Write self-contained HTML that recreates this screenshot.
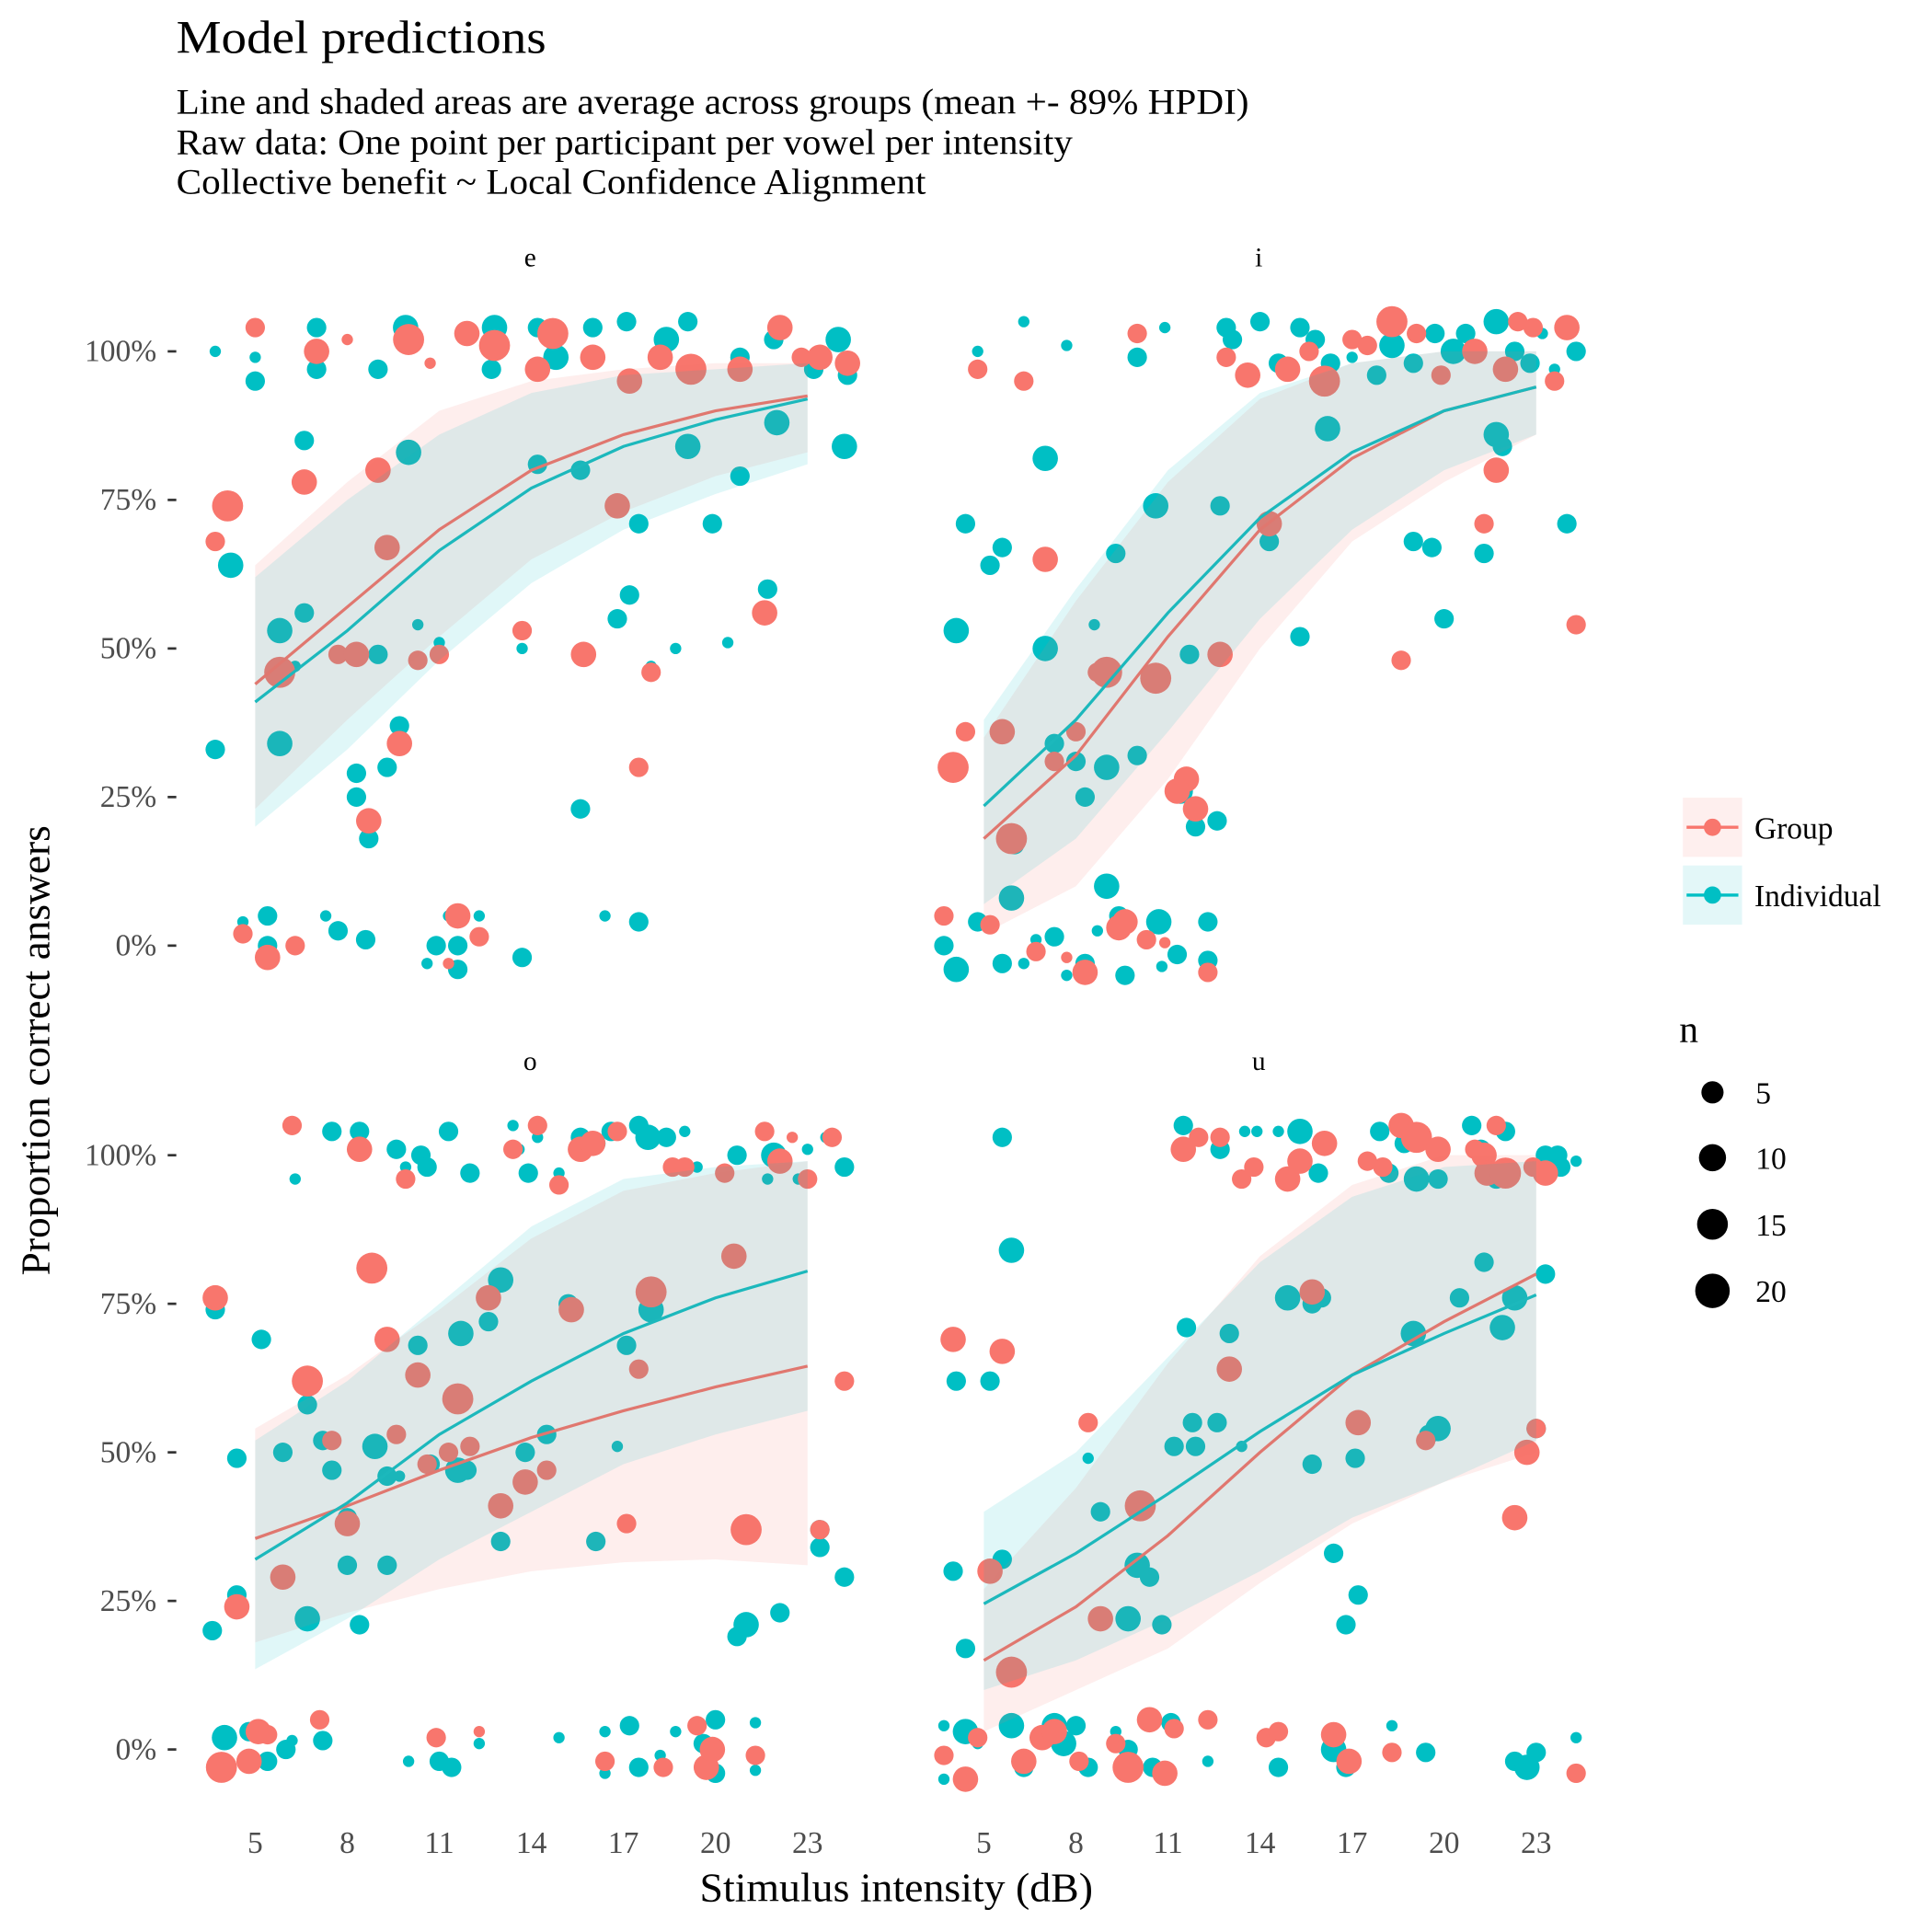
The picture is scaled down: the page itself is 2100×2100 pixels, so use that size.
<!DOCTYPE html>
<html><head><meta charset="utf-8"><style>
html,body{margin:0;padding:0;background:#fff;}
svg{display:block;font-family:"Liberation Serif",serif;}
</style></head><body>
<svg id="chart" width="2100" height="2100" viewBox="0 0 1560 1560" xmlns="http://www.w3.org/2000/svg">
<g transform="scale(0.9955)">
<text x="143" y="43" font-size="38" textLength="300" lengthAdjust="spacingAndGlyphs">Model predictions</text>
<g font-size="29">
<text x="143" y="92" textLength="870" lengthAdjust="spacingAndGlyphs">Line and shaded areas are average across groups (mean +- 89% HPDI)</text>
<text x="143" y="125" textLength="727" lengthAdjust="spacingAndGlyphs">Raw data: One point per participant per vowel per intensity</text>
<text x="143" y="157" textLength="608" lengthAdjust="spacingAndGlyphs">Collective benefit ~ Local Confidence Alignment</text>
</g>
<text transform="translate(40,852) rotate(-90)" text-anchor="middle" font-size="33" textLength="365" lengthAdjust="spacingAndGlyphs">Proportion correct answers</text>
<text x="727" y="1542" text-anchor="middle" font-size="33" textLength="319" lengthAdjust="spacingAndGlyphs">Stimulus intensity (dB)</text>
<g>
<rect x="1365" y="647" width="48" height="48" fill="#FEEFEE"/>
<line x1="1368" y1="671" x2="1410" y2="671" stroke="#F8766D" stroke-width="2.5"/>
<circle cx="1389" cy="671" r="7" fill="#F8766D"/>
<text x="1423" y="680" font-size="25">Group</text>
<rect x="1365" y="702" width="48" height="48" fill="#E3F7F8"/>
<line x1="1368" y1="726" x2="1410" y2="726" stroke="#00BFC4" stroke-width="2.5"/>
<circle cx="1389" cy="726" r="7" fill="#00BFC4"/>
<text x="1423" y="735" font-size="25">Individual</text>
</g>
<g font-size="25">
<text x="1362" y="845" font-size="31">n</text>
<circle cx="1389" cy="886" r="9"/><text x="1424" y="895">5</text>
<circle cx="1389" cy="939" r="11"/><text x="1424" y="948">10</text>
<circle cx="1389" cy="993" r="12.5"/><text x="1424" y="1002">15</text>
<circle cx="1389" cy="1047" r="14"/><text x="1424" y="1056">20</text>
</g>
<g id="panels"></g>
</g>
</svg>
<script>
const xTicks=[5,8,11,14,17,20,23];
const yTicks=[0,25,50,75,100];
const yTickLabels=["0%","25%","50%","75%","100%"];
const panelNames=["e","i","o","u"];
const lineX=[5,8,11,14,17,20,23];
const grpMean={e:[.44,.57,.70,.80,.86,.90,.925],i:[.18,.32,.52,.70,.82,.90,.94],o:[.355,.41,.47,.525,.57,.61,.645],u:[.15,.24,.36,.50,.63,.72,.80]};
const indMean={e:[.41,.53,.665,.77,.84,.885,.92],i:[.235,.38,.56,.72,.83,.90,.94],o:[.32,.415,.53,.62,.70,.76,.805],u:[.245,.33,.43,.535,.63,.70,.765]};
const grpLo={e:[.23,.38,.52,.65,.73,.79,.83],i:[.02,.10,.28,.50,.68,.78,.86],o:[.18,.23,.27,.30,.315,.32,.31],u:[.03,.10,.17,.28,.38,.45,.50]};
const grpHi={e:[.64,.78,.90,.95,.97,.98,.98],i:[.35,.58,.78,.92,.98,1,1],o:[.54,.63,.74,.86,.94,.97,.99],u:[.27,.44,.65,.83,.95,1,1]};
const indLo={e:[.20,.33,.48,.61,.70,.76,.81],i:[.07,.18,.36,.55,.70,.80,.86],o:[.135,.22,.32,.40,.48,.53,.57],u:[.10,.15,.22,.30,.39,.45,.52]};
const indHi={e:[.62,.75,.86,.93,.96,.97,.98],i:[.38,.60,.80,.93,.98,1,1],o:[.52,.62,.75,.88,.96,.98,.99],u:[.40,.50,.66,.82,.93,.98,.99]};
const ptsIndE=[[3.7,100,1],[5,95,6],[5,99,1],[7,104,6],[7,97,6],[9,97,6],[9.9,104,12],[12.8,104,12],[12.7,97,6],[14.2,104,6],[14.8,99,12],[16,104,6],[17.1,105,6],[18.4,102,12],[19.1,105,6],[20.8,99,6],[21.9,102,6],[23.2,97,6],[24,102,12],[24.3,96,6],[6.6,85,6],[10,83,12],[14.2,81,6],[15.6,80,6],[19.1,84,12],[22,88,12],[24.2,84,12],[20.8,79,6],[19.9,71,6],[17.5,71,6],[17.2,59,6],[16.8,55,6],[21.7,60,6],[4.2,64,12],[5.8,53,12],[6.6,56,6],[6.3,47,1],[9,49,6],[10.3,54,1],[11,51,1],[13.7,50,1],[18.7,50,1],[20.4,51,1],[17.9,47,1],[9.7,37,6],[9.3,30,6],[8.3,29,6],[8.3,25,6],[8.7,18,6],[5.8,34,12],[3.7,33,6],[15.6,23,6],[4.6,4,1],[5.4,5,6],[7.3,5,1],[7.7,2.5,6],[8.6,1,6],[5.4,0,6],[10.9,0,6],[11.6,0,6],[10.6,-3,1],[11.6,-4,6],[13.7,-2,6],[17.5,4,6],[16.4,5,1],[11.3,5,1],[12.3,5,1]];
const ptsGrpE=[[5,104,6],[8,102,1],[7,100,12],[10,102,20],[10.7,98,1],[11.9,103,12],[12.8,101,20],[14.7,103,20],[14.2,97,12],[16,99,12],[17.2,95,12],[18.2,99,12],[19.2,97,20],[20.8,97,12],[22.1,104,12],[22.8,99,6],[23.4,99,12],[24.3,98,12],[4.1,74,20],[3.7,68,6],[6.6,78,12],[9,80,12],[9.3,67,12],[16.8,74,12],[5.8,46,20],[7.7,49,6],[8.3,49,12],[10.3,48,6],[11,49,6],[13.7,53,6],[15.7,49,12],[17.9,46,6],[21.6,56,12],[9.7,34,12],[17.5,30,6],[8.7,21,12],[4.6,2,6],[6.3,0,6],[5.4,-2,12],[11.6,5,12],[12.3,1.5,6],[11.3,-3,1]];
const ptsIndI=[[4.8,100,1],[6.3,105,1],[7.7,101,1],[10,99,6],[10.9,104,1],[12.9,104,6],[13.1,102,6],[14,105,6],[14.6,98,6],[15.3,104,6],[15.8,102,6],[16.3,98,6],[17,99,1],[17.8,96,6],[18.3,101,12],[19,98,6],[19.7,103,6],[20.3,100,12],[20.7,103,6],[21.7,105,12],[22.3,100,6],[22.8,98,6],[23.2,103,1],[23.6,97,1],[24.3,100,6],[7,82,12],[16.2,87,12],[21.7,86,12],[21.9,84,6],[10.6,74,12],[12.7,74,6],[4.4,71,6],[24,71,6],[5.6,67,6],[5.2,64,6],[9.3,66,6],[19,68,6],[19.6,67,6],[21.3,66,6],[14.3,68,6],[4.1,53,12],[7,50,12],[8.6,54,1],[15.3,52,6],[20,55,6],[11.7,49,6],[7.3,34,6],[8,31,6],[9,30,12],[10,32,6],[11.4,26,12],[8.3,25,6],[11.9,20,6],[12.6,21,6],[6,17,6],[5.9,8,12],[9,10,12],[3.7,0,6],[4.1,-4,12],[4.8,4,6],[5.6,-3,6],[6.7,1,1],[7.3,1.5,6],[8.3,-3,6],[7.7,-5,1],[8.7,2.5,1],[9.4,5,6],[9.6,-5,6],[10.7,4,12],[11.3,-1.5,6],[12.3,4,6],[12.3,-2.5,6],[6.3,-3,1],[10.8,-3.5,1]];
const ptsGrpI=[[4.8,97,6],[6.3,95,6],[10,103,6],[12.9,99,6],[13.6,96,12],[14.9,97,12],[15.6,100,6],[16.1,95,20],[17,102,6],[17.5,101,6],[18.3,105,20],[19.1,103,6],[19.9,96,6],[21,100,12],[22,97,12],[22.4,105,6],[22.9,104,6],[23.6,95,6],[24,104,12],[21.7,80,12],[21.3,71,6],[24.3,54,6],[18.6,48,6],[14.3,71,12],[7,65,12],[9,46,20],[8.7,46,6],[10.6,45,20],[12.7,49,12],[5.6,36,12],[4.4,36,6],[4,30,20],[8,36,6],[7.3,31,6],[11.6,28,12],[11.3,26,12],[11.9,23,12],[5.9,18,20],[3.7,5,6],[5.2,3.5,6],[6.7,-1,6],[7.7,-2,1],[8.3,-4.5,12],[9.4,3,12],[9.6,4,12],[10.3,1,6],[10.9,0.5,1],[12.3,-4.5,6]];
const ptsIndO=[[6.3,96,1],[7.5,104,6],[8.4,104,6],[9.6,101,6],[9.9,98,1],[10.4,100,6],[10.6,98,6],[11.3,104,6],[12,97,6],[13.4,105,1],[13.6,101,1],[13.9,97,6],[14.2,103,1],[14.9,97,1],[15.6,103,6],[16.1,102,6],[16.6,104,6],[17.5,105,6],[17.8,103,12],[18.4,103,6],[19,104,1],[19.4,98,1],[20.7,100,6],[21.7,96,1],[21.9,100,12],[22.7,96,1],[23.6,103,1],[24.2,98,6],[23,101,1],[3.7,74,6],[5.2,69,6],[6.7,58,6],[4.4,49,6],[5.9,50,6],[7.2,52,6],[7.5,47,6],[8.9,51,12],[9.3,46,6],[9.7,46,1],[10.3,68,6],[11.7,70,12],[12.6,72,6],[13,79,12],[15.2,75,6],[17.1,68,6],[17.9,74,12],[16.8,51,1],[11.6,47,12],[11.9,47,6],[10.7,48,6],[13.8,50,6],[14.5,53,6],[13,35,6],[8,39,6],[8,31,6],[9.3,31,6],[16.1,35,6],[4.4,26,6],[3.6,20,6],[6.7,22,12],[8.4,21,6],[22.1,23,6],[21,21,12],[20.7,19,6],[23.4,37,6],[23.4,34,6],[24.2,29,6],[4,2,12],[4.8,3,6],[5.4,-2,6],[6,0,6],[6.2,1.5,1],[7.2,1.5,6],[10,-2,1],[11,-2,6],[11.4,-3,6],[12.3,1,1],[14.9,2,1],[16.4,3,1],[17.2,4,6],[17.5,-3,6],[18.2,-1,1],[18.7,3,1],[19.6,1,6],[20,5,6],[20,-4,6],[21.3,4.5,1],[21.3,-3.5,1],[16.4,-4,1]];
const ptsGrpO=[[6.2,105,6],[8.4,101,12],[9.9,96,6],[13.4,101,6],[14.2,105,6],[14.9,95,6],[15.6,101,12],[16,102,12],[16.8,104,6],[18.6,98,6],[19,98,6],[20.3,97,6],[21.6,104,6],[22.1,99,12],[22.5,103,1],[23,96,6],[23.8,103,6],[3.7,76,12],[8.8,81,20],[9.3,69,12],[6.7,62,20],[12.6,76,12],[10.3,63,12],[11.6,59,20],[15.3,74,12],[17.9,77,20],[17.5,64,6],[20.6,83,12],[24.2,62,6],[7.5,52,6],[9.6,53,6],[10.6,48,6],[11.3,50,6],[12,51,6],[13.8,45,12],[14.5,47,6],[13,41,12],[8,38,12],[17.1,38,6],[21,37,20],[23.4,37,6],[5.9,29,12],[4.4,24,12],[3.9,-3,20],[4.8,-2,12],[5.1,3,12],[5.4,2.5,6],[7.1,5,6],[10.9,2,6],[12.3,3,1],[16.4,-2,6],[18.3,-3,6],[19.4,4,6],[19.7,-3,12],[19.9,0,12],[21.3,-1,6]];
const ptsIndU=[[5.6,103,6],[11.5,105,6],[12.7,101,6],[13.5,104,1],[13.9,104,1],[14.6,104,1],[15.3,104,12],[15.9,97,6],[17.9,104,6],[18.2,97,6],[18.7,102,6],[19.1,96,12],[19.8,96,6],[20.9,105,6],[21.2,101,6],[21.7,96,6],[22,104,6],[23.3,100,6],[23.8,98,6],[24.3,99,1],[23.7,100,6],[5.9,84,12],[4.1,62,6],[5.2,62,6],[11.6,71,6],[13,70,6],[14.9,76,12],[16,76,6],[15.7,75,6],[19,70,12],[20.5,76,6],[21.3,82,6],[22.3,76,12],[21.9,71,12],[23.3,80,6],[11.8,55,6],[12.6,55,6],[11.2,51,6],[11.9,51,6],[13.4,51,1],[8.4,49,1],[15.7,48,6],[19.8,54,12],[19.5,53,6],[17.1,49,6],[23,54,6],[8.8,40,6],[10,31,12],[10.4,29,6],[9.7,22,12],[10.8,21,6],[16.4,33,6],[17.2,26,6],[16.8,21,6],[4,30,6],[5.6,32,6],[4.4,17,6],[3.7,4,1],[4.4,3,12],[4.8,1,1],[3.7,-5,1],[5.9,4,12],[6.3,-3,6],[7.3,4,12],[7.6,1,12],[8,4,6],[8.4,-3,6],[9.3,3,1],[9.7,0,6],[11.1,4.5,6],[10.5,-3,6],[12.3,-2,1],[14.6,-3,6],[16.4,0,12],[16.8,-3,6],[18.3,4,1],[19.4,-0.5,6],[22.3,-2,6],[22.7,-3,12],[23,-0.5,6],[24.3,2,1]];
const ptsGrpU=[[11.5,101,12],[12,103,6],[12.7,103,6],[13.4,96,6],[13.8,98,6],[14.9,96,12],[15.3,99,12],[16.1,102,12],[17.5,99,6],[18,98,6],[18.6,105,12],[19.1,103,20],[19.8,101,12],[21,101,6],[21.7,105,6],[21.3,100,12],[21.4,97,12],[22,97,20],[23.3,97,12],[22.9,98,6],[4,69,12],[5.6,67,12],[15.7,77,12],[13,64,12],[17.2,55,12],[19.4,52,6],[8.4,55,6],[10.1,41,20],[23,54,6],[22.7,50,12],[22.3,39,12],[5.2,30,12],[5.9,13,20],[8.8,22,12],[4.4,-5,12],[4.8,2,6],[3.7,-1,6],[6.3,-2,12],[6.9,2,12],[7.3,3,12],[8.1,-2,6],[9.3,1,6],[9.7,-3,20],[10.4,5,12],[10.9,-4,12],[11.2,3.5,6],[12.3,5,6],[14.2,2,6],[14.6,3,6],[16.4,2.5,12],[16.9,-2,12],[18.3,-0.5,6],[24.3,-4,6]];
const ptsInd={e:ptsIndE,i:ptsIndI,o:ptsIndO,u:ptsIndU};
const ptsGrp={e:ptsGrpE,i:ptsGrpI,o:ptsGrpO,u:ptsGrpU};

const RED="#F8766D",TEAL="#00BFC4";
const panelGeom={e:{x0:207,y0:767,strip:216,left:true,bottom:false},i:{x0:798,y0:767,strip:216,left:false,bottom:false},o:{x0:207,y0:1419,strip:868,left:true,bottom:true},u:{x0:798,y0:1419,strip:868,left:false,bottom:true}};
const DBPX=448/18, PPX=482;
const NS="http://www.w3.org/2000/svg";
function mk(tag,attrs,parent){const el=document.createElementNS(NS,tag);for(const k in attrs)el.setAttribute(k,attrs[k]);parent.appendChild(el);return el;}
function rad(n){return 2.3+2.3*Math.sqrt(n);}
const root=document.getElementById('panels');
panelNames.forEach(p=>{
  const g=panelGeom[p];
  const sx=d=>g.x0+(d-5)*DBPX;
  const sy=v=>g.y0-v*PPX;
  const pg=mk('g',{},root);
  
  
  const st=mk('text',{x:g.x0+223,y:g.strip,'text-anchor':'middle','font-size':'22'},pg);
  st.textContent=p;
  
  
  if(g.left){
    yTicks.forEach((t,i)=>{
      const tl=mk('text',{x:127,y:sy(t/100)+8,'text-anchor':'end','font-size':'25',fill:'#4D4D4D'},pg);
      tl.textContent=yTickLabels[i];
      
      
      const tk=mk('line',{x1:136,x2:143,y1:sy(t/100),y2:sy(t/100),stroke:'#333','stroke-width':2},pg);
      
      
    });
  }
  if(g.bottom){
    xTicks.forEach(t=>{
      const tl=mk('text',{x:sx(t),y:1503,'text-anchor':'middle','font-size':'25',fill:'#4D4D4D'},pg);
      tl.textContent=t;
      
      
    });
  }
  [[ptsInd[p],TEAL,'individual'],[ptsGrp[p],RED,'group']].forEach(([arr,col,nm])=>{
    arr.forEach(d=>{
      const c=mk('circle',{cx:sx(d[0]).toFixed(1),cy:sy(d[1]/100).toFixed(1),r:rad(d[2]).toFixed(1),fill:col},pg);
      
      
    });
  });
  function band(lo,hi,col,nm){
    let d='M'+lineX.map((x,i)=>sx(x).toFixed(1)+','+sy(hi[i]).toFixed(1)).join('L');
    d+='L'+lineX.slice().reverse().map((x,j)=>{const i=lineX.length-1-j;return sx(x).toFixed(1)+','+sy(lo[i]).toFixed(1);}).join('L')+'Z';
    const b=mk('path',{d:d,fill:col,'fill-opacity':0.12},pg);
    
    
  }
  band(grpLo[p],grpHi[p],RED,'group');
  band(indLo[p],indHi[p],TEAL,'individual');
  function line(m,col,nm){
    const l=mk('polyline',{points:lineX.map((x,i)=>sx(x).toFixed(1)+','+sy(m[i]).toFixed(1)).join(' '),fill:'none',stroke:col,'stroke-width':2.4},pg);
    
    
  }
  line(grpMean[p],'#E0776F','group');
  line(indMean[p],'#1CB8BC','individual');
});
</script>
</body></html>
